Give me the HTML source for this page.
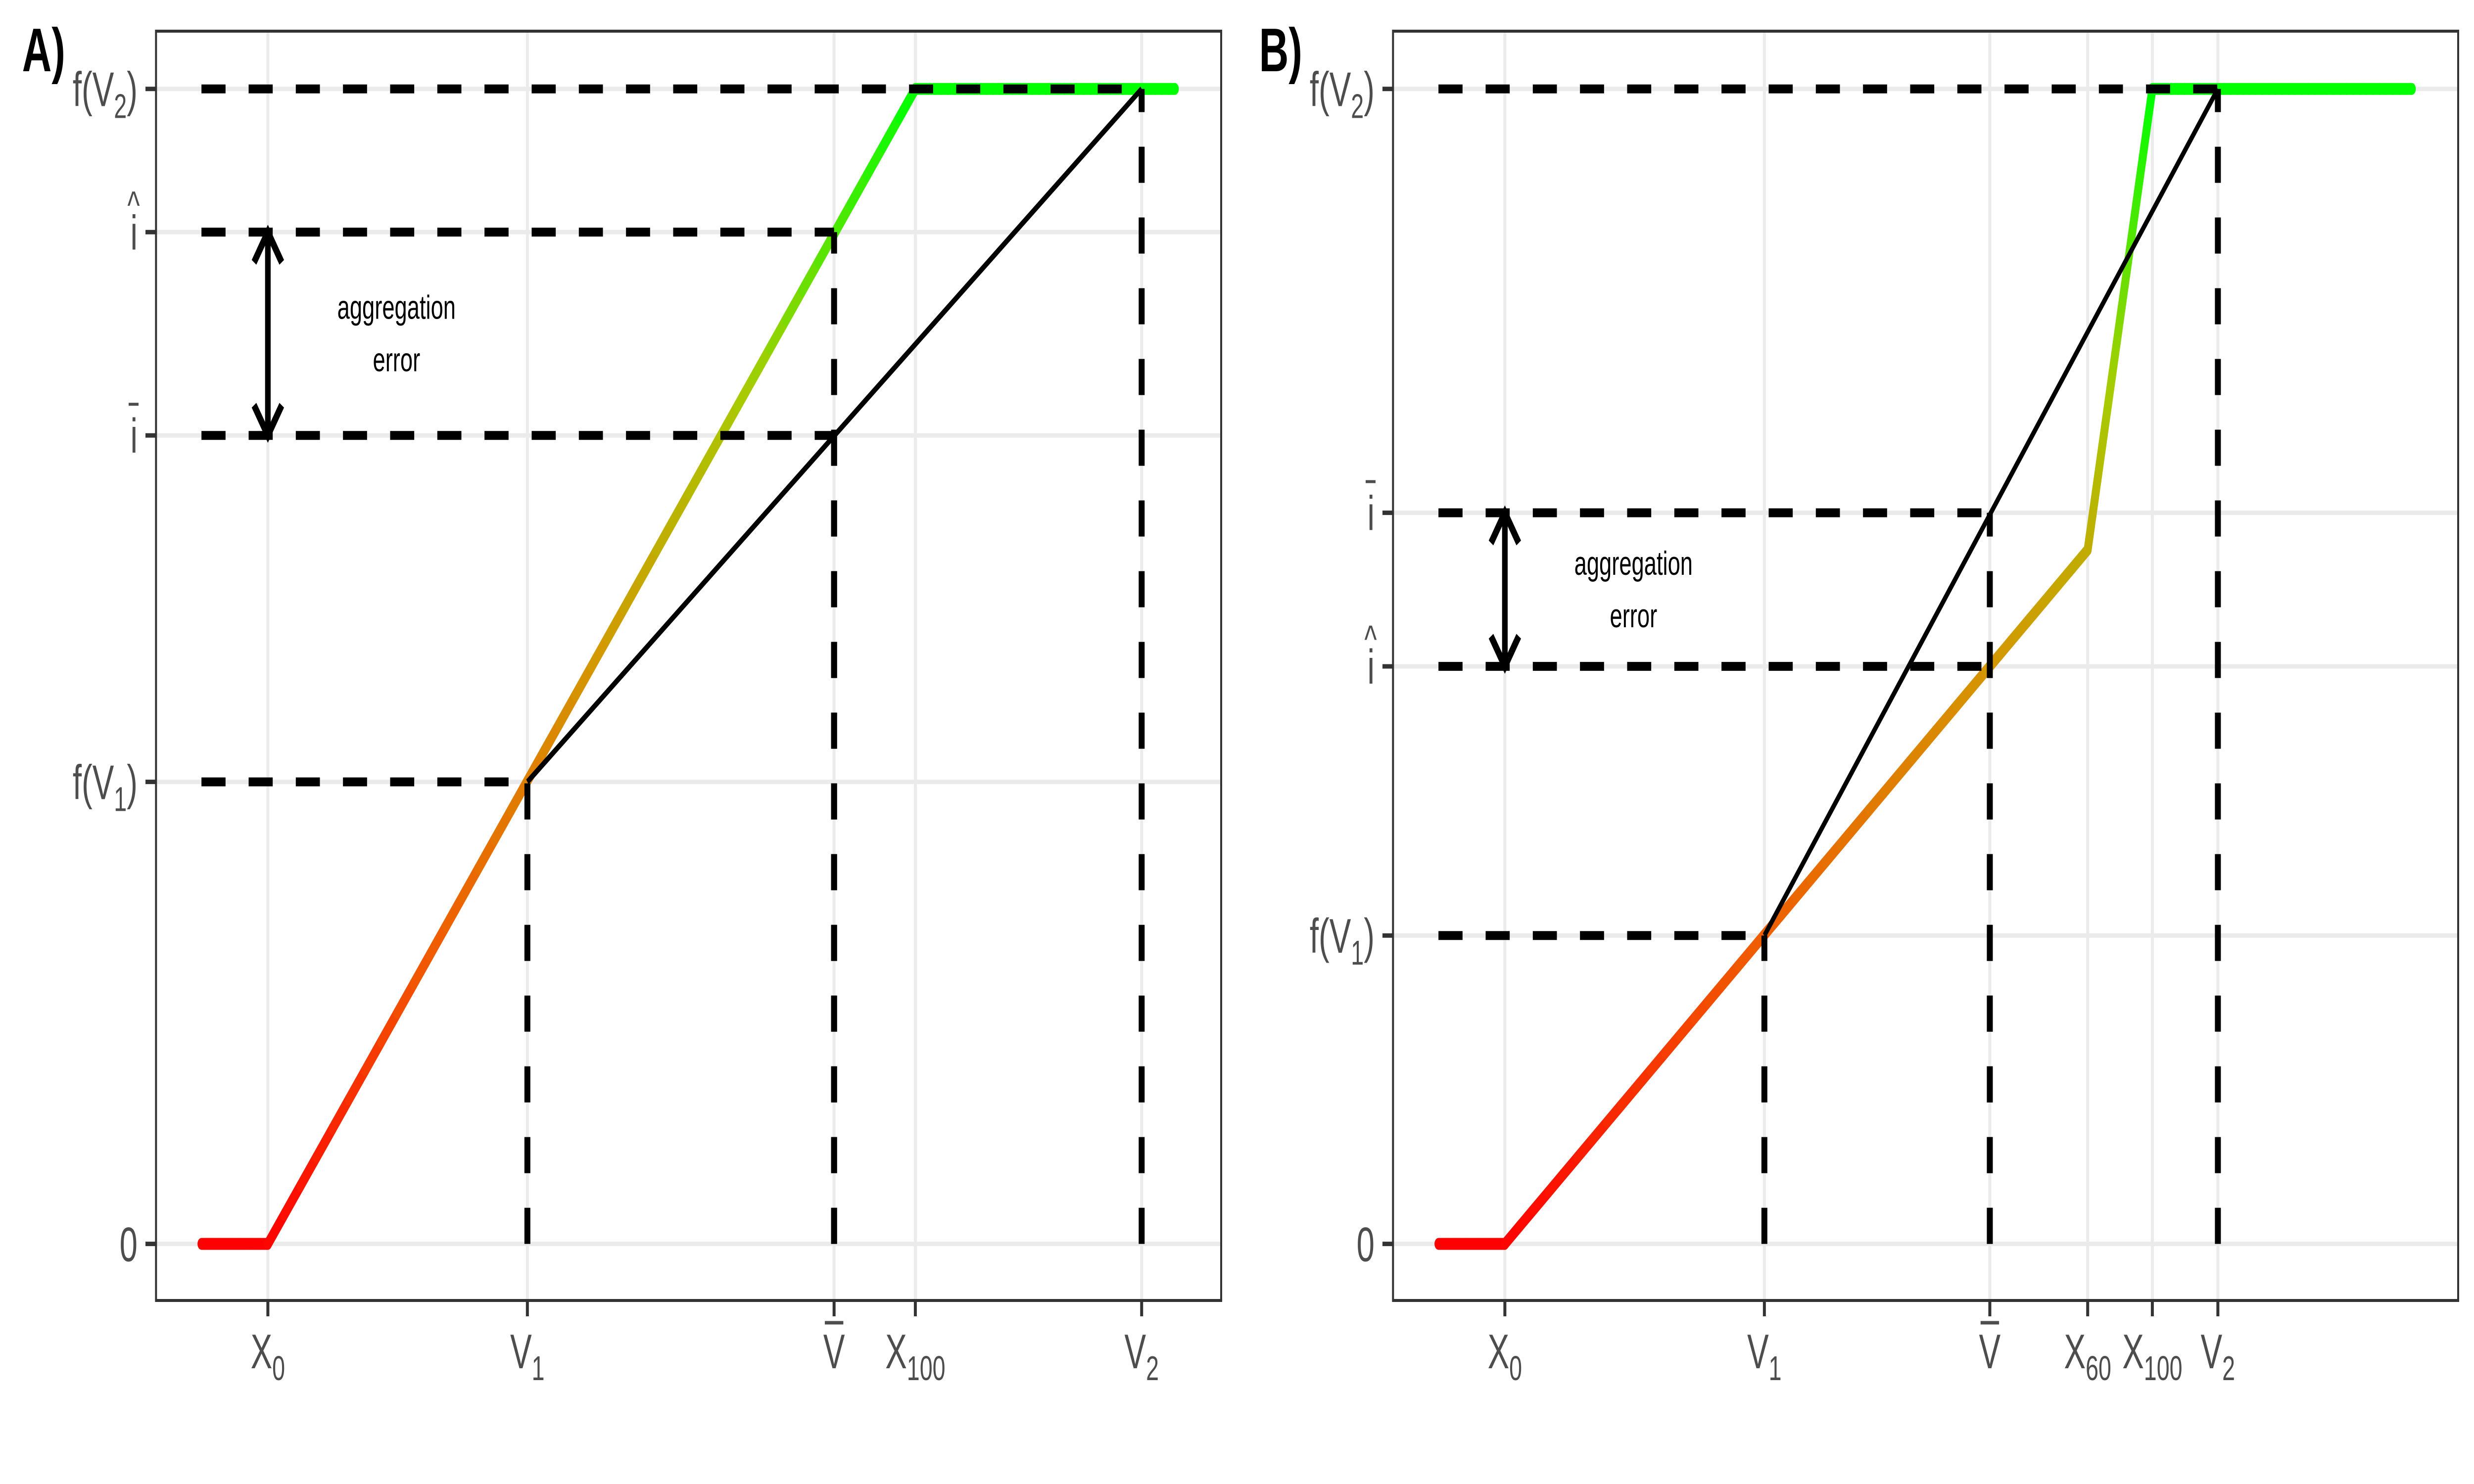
<!DOCTYPE html>
<html><head><meta charset="utf-8"><style>
html,body{margin:0;padding:0;background:#fff;width:100%;height:100%;overflow:hidden}
svg{display:block;width:100vw;height:100vh}
text{font-family:"Liberation Sans",Arial,sans-serif}
</style></head><body>
<svg id="chart" xmlns="http://www.w3.org/2000/svg" viewBox="0 0 7500 3000" preserveAspectRatio="none">
<rect width="7500" height="3000" fill="#fff"/>
</svg>
<script>
// ---- Panel A data ----
const xBreaksA = [0, 29.7, 64.8, 74.1, 100];
const xLabelsA = ["X_{0}", "V_{1}", "V\u0304", "X_{100}", "V_{2}"];
const yBreaksA = [0, 40, 70, 87.6, 100];
const yLabelsA = ["0", "f(V_{1})", "ibar", "ihat", "f(V_{2})"];
const curveXA = [-7.6, 0, 74.1, 103.8];
const curveYA = [0, 0, 100, 100];
const blackXA = [29.7, 100];
const blackYA = [40, 100];
const guideXA = [29.7, 64.8, 64.8, 100];
const guideYA = [40, 70, 87.6, 100];
const arrowYA = [70, 87.6];
// ---- Panel B data ----
const xBreaksB = [0, 29.7, 55.5, 66.7, 74.1, 81.6];
const xLabelsB = ["X_{0}", "V_{1}", "V\u0304", "X_{60}", "X_{100}", "V_{2}"];
const yBreaksB = [0, 26.7, 50, 63.3, 100];
const yLabelsB = ["0", "f(V_{1})", "ihat", "ibar", "f(V_{2})"];
const curveXB = [-7.6, 0, 66.7, 74.1, 103.8];
const curveYB = [0, 0, 60.1, 100, 100];
const blackXB = [29.7, 81.6];
const blackYB = [26.7, 100];
const guideXB = [29.7, 55.5, 55.5, 81.6];
const guideYB = [26.7, 63.3, 50, 100];
const arrowYB = [63.3, 50];

const NS = "http://www.w3.org/2000/svg";
const svg = document.getElementById('chart');
function mk(tag, attrs, parent) {
  const e = document.createElementNS(NS, tag);
  for (const k in attrs) e.setAttribute(k, attrs[k]);
  (parent || svg).appendChild(e);
  return e;
}
const stops = [[0,[255,0,0]],[0.25,[240,90,0]],[0.5,[212,150,0]],[0.75,[165,205,0]],[1,[0,255,0]]];
function colAt(t) {
  t = Math.max(0, Math.min(1, t));
  for (let i = 1; i < stops.length; i++) {
    if (t <= stops[i][0]) {
      const a = stops[i-1], b = stops[i], f = (t - a[0]) / (b[0] - a[0]);
      const c = a[1].map((v, j) => Math.round(v + (b[1][j] - v) * f));
      return 'rgb(' + c.join(',') + ')';
    }
  }
  return 'rgb(0,255,0)';
}

function addLabel(g, str, x, y, anchor, name) {
  const t = mk('text', {x: x, y: y, 'text-anchor': anchor, 'font-size': 98, fill: '#4D4D4D'}, g);
  
  
  if (str === 'ihat' || str === 'ibar') {
    t.textContent = 'i';
    const cx = anchor === 'end' ? x - 12 : x;
    if (str === 'ihat') {
      const h = mk('text', {x: cx, y: y - 62, 'text-anchor': 'middle', 'font-size': 80, fill: '#4D4D4D'}, g);
      h.textContent = '^';
      
      
    } else {
      const l = mk('line', {x1: cx - 15, x2: cx + 15, y1: y - 98, y2: y - 98, stroke: '#4D4D4D', 'stroke-width': 6}, g);
      
      
    }
    return;
  }
  if (str.indexOf('\u0304') >= 0) {
    t.textContent = str.replace('\u0304', '');
    const l = mk('line', {x1: x - 28, x2: x + 28, y1: y - 92, y2: y - 92, stroke: '#4D4D4D', 'stroke-width': 7}, g);
    
    
    return;
  }
  const re = /_\{([^}]*)\}/g;
  let last = 0, m;
  while ((m = re.exec(str)) !== null) {
    if (m.index > last) { const s = mk('tspan', {}, t); s.textContent = str.slice(last, m.index); }
    const sub = mk('tspan', {'font-size': 70, dy: 24}, t); sub.textContent = m[1];
    last = re.lastIndex;
    if (last < str.length) { const s = mk('tspan', {dy: -24}, t); s.textContent = str.slice(last); last = str.length; }
  }
  if (last < str.length) { const s = mk('tspan', {}, t); s.textContent = str.slice(last); }
}

function drawPanel(cfg) {
  const L = cfg.left, R = cfg.left + 3229, T = 63, B = 2629;
  const x = v => L + (v - (-12.8)) / (109.1 - (-12.8)) * (R - L);
  const y = v => B - (v - (-4.9)) / (105 - (-4.9)) * (B - T);
  const g = mk('g', {});
  
  
  const grid = mk('g', {stroke: '#EBEBEB', 'stroke-width': 9}, g);
  
  
  cfg.xb.forEach(v => mk('line', {x1: x(v), x2: x(v), y1: T, y2: B}, grid));
  cfg.yb.forEach(v => mk('line', {x1: L, x2: R, y1: y(v), y2: y(v)}, grid));
  const cg = mk('g', {'stroke-width': 24, 'stroke-linecap': 'round'}, g);
  
  
  for (let i = 1; i < cfg.cx.length; i++) {
    const n = 40;
    for (let k = 0; k < n; k++) {
      const f0 = k / n, f1 = (k + 1) / n;
      const xa = cfg.cx[i-1] + (cfg.cx[i] - cfg.cx[i-1]) * f0, xb2 = cfg.cx[i-1] + (cfg.cx[i] - cfg.cx[i-1]) * f1;
      const ya = cfg.cy[i-1] + (cfg.cy[i] - cfg.cy[i-1]) * f0, yb2 = cfg.cy[i-1] + (cfg.cy[i] - cfg.cy[i-1]) * f1;
      mk('line', {x1: x(xa), y1: y(ya), x2: x(xb2), y2: y(yb2), stroke: colAt((ya + yb2) / 200)}, cg);
    }
  }
  const bl = mk('line', {x1: x(cfg.bx[0]), y1: y(cfg.by[0]), x2: x(cfg.bx[1]), y2: y(cfg.by[1]), stroke: '#000', 'stroke-width': 12}, g);
  
  
  const dg = mk('g', {stroke: '#000', 'stroke-width': 18, 'stroke-dasharray': '73 70'}, g);
  
  
  for (let i = 0; i < cfg.gx.length; i++) {
    mk('line', {x1: x(-7.6), x2: x(cfg.gx[i]), y1: y(cfg.gy[i]), y2: y(cfg.gy[i])}, dg);
    mk('line', {x1: x(cfg.gx[i]), x2: x(cfg.gx[i]), y1: y(0), y2: y(cfg.gy[i])}, dg);
  }
  const ag = mk('g', {stroke: '#000', 'stroke-width': 17, fill: 'none'}, g);
  
  
  const ax = x(0), a0 = y(cfg.ay[0]), a1 = y(cfg.ay[1]);
  mk('line', {x1: ax, x2: ax, y1: a0, y2: a1}, ag);
  [[a0, a1], [a1, a0]].forEach(p => {
    const d = p[0] < p[1] ? 1 : -1;
    mk('polyline', {points: (ax - 42) + ',' + (p[0] + d * 61) + ' ' + ax + ',' + p[0] + ' ' + (ax + 42) + ',' + (p[0] + d * 61)}, ag);
  });
  const tm = (a0 + a1) / 2;
  const t1 = mk('text', {x: cfg.left + 729, y: tm - 30, 'text-anchor': 'middle', 'font-size': 68, fill: '#000'}, g);
  t1.textContent = 'aggregation';
  
  
  const t2 = mk('text', {x: cfg.left + 729, y: tm + 76, 'text-anchor': 'middle', 'font-size': 68, fill: '#000'}, g);
  t2.textContent = 'error';
  
  
  const br = mk('rect', {x: L, y: T, width: R - L, height: B - T, fill: 'none', stroke: '#333', 'stroke-width': 6}, g);
  
  
  const tk = mk('g', {stroke: '#333', 'stroke-width': 9}, g);
  
  
  cfg.xb.forEach((v, i) => {
    mk('line', {x1: x(v), x2: x(v), y1: B, y2: B + 32}, tk);
    addLabel(g, cfg.xl[i], x(v), 2766, 'middle', 'x-tick-label-' + i);
  });
  cfg.yb.forEach((v, i) => {
    mk('line', {x1: L - 32, x2: L, y1: y(v), y2: y(v)}, tk);
    addLabel(g, cfg.yl[i], L - 56, y(v) + 35, 'end', 'y-tick-label-' + i);
  });
  const pl = mk('text', {x: cfg.left - 406, y: 144, 'font-size': 124, 'font-weight': 'bold', fill: '#000'}, g);
  pl.textContent = cfg.tag;
  
  
}
drawPanel({name: 'panel-a', tag: 'A)', left: 473, xb: xBreaksA, xl: xLabelsA, yb: yBreaksA, yl: yLabelsA, cx: curveXA, cy: curveYA, bx: blackXA, by: blackYA, gx: guideXA, gy: guideYA, ay: arrowYA});
drawPanel({name: 'panel-b', tag: 'B)', left: 4223, xb: xBreaksB, xl: xLabelsB, yb: yBreaksB, yl: yLabelsB, cx: curveXB, cy: curveYB, bx: blackXB, by: blackYB, gx: guideXB, gy: guideYB, ay: arrowYB});
</script>
</body></html>
